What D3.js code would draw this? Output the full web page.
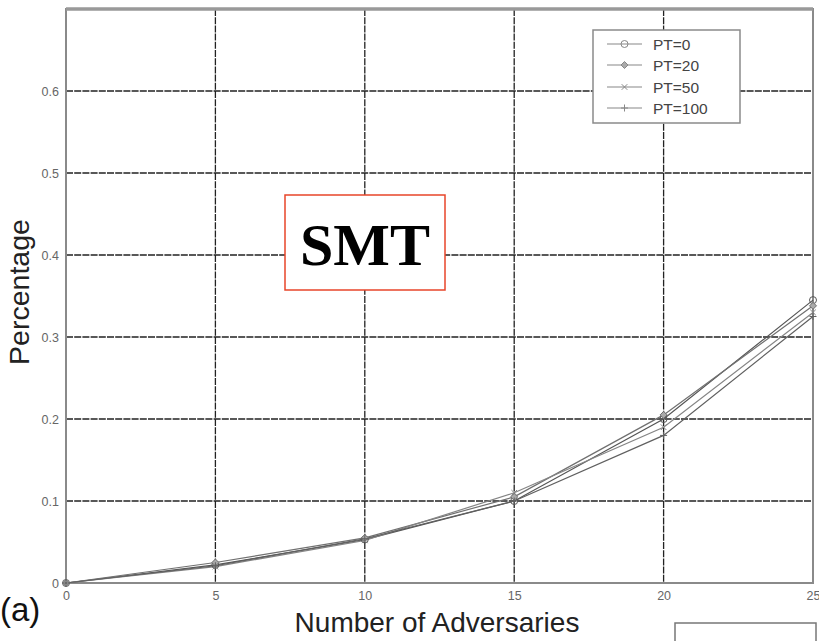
<!DOCTYPE html>
<html>
<head>
<meta charset="utf-8">
<script src="https://cdn.jsdelivr.net/npm/d3@7"></script>
<style>
  html, body { margin: 0; padding: 0; background: #fff; }
  svg { display: block; }
</style>
</head>
<body>
<svg id="chart" width="819" height="641"></svg>
<script>
// Number of adversaries (x) and detection percentage per PT setting
const adversaries = [0, 5, 10, 15, 20, 25];
const seriesNames = ["PT=0", "PT=20", "PT=50", "PT=100"];
const pt0   = [0, 0.022, 0.053, 0.100, 0.200, 0.345];
const pt20  = [0, 0.025, 0.055, 0.105, 0.205, 0.338];
const pt50  = [0, 0.020, 0.052, 0.110, 0.190, 0.330];
const pt100 = [0, 0.021, 0.054, 0.100, 0.180, 0.325];
const xTicks = [0, 5, 10, 15, 20, 25];
const yTicks = [0, 0.1, 0.2, 0.3, 0.4, 0.5, 0.6];
const markerKinds = ["circle", "diamond", "x", "plus"];

const svg = d3.select("#chart");
const L = 66, R = 813, T = 9, B = 583;
const SANS = "Liberation Sans, Arial, Helvetica, sans-serif";

const x = d3.scaleLinear().domain([0, 25]).range([L, R]);
const y = d3.scaleLinear().domain([0, 0.7]).range([B, T]);

// grid lines
const grid = svg.append("g");
grid.selectAll("line.v").data(xTicks.slice(1, -1)).join("line")
  .attr("x1", d => x(d)).attr("x2", d => x(d))
  .attr("y1", T).attr("y2", B)
  .attr("stroke", "#222").attr("stroke-width", 1.3)
  .attr("stroke-dasharray", "7,1.2");
grid.selectAll("line.h").data(yTicks.slice(1)).join("line")
  .attr("x1", L).attr("x2", R)
  .attr("y1", d => y(d)).attr("y2", d => y(d))
  .attr("stroke", "#222").attr("stroke-width", 1.3)
  .attr("stroke-dasharray", "7,1.2");

// frame
svg.append("rect").attr("x", L).attr("y", T).attr("width", R - L).attr("height", B - T)
  .attr("fill", "none").attr("stroke", "#8a8a8a").attr("stroke-width", 2);
svg.append("line").attr("x1", L).attr("x2", R).attr("y1", T).attr("y2", T)
  .attr("stroke", "#999").attr("stroke-width", 3.5);

// axes
const xAxis = d3.axisBottom(x).tickValues(xTicks).tickSize(0).tickPadding(8)
  .tickFormat(d3.format("d"));
const yAxis = d3.axisLeft(y).tickValues(yTicks).tickSize(0).tickPadding(7)
  .tickFormat(d => d === 0 ? "0" : d3.format(".1f")(d));
const gx = svg.append("g").attr("transform", `translate(0,${B})`).call(xAxis);
const gy = svg.append("g").attr("transform", `translate(${L},0)`).call(yAxis);
[gx, gy].forEach(g => {
  g.select(".domain").remove();
  g.selectAll("text").attr("font-family", SANS)
    .attr("font-size", 12.5).attr("fill", "#666");
});

// series lines
const data = [pt0, pt20, pt50, pt100].map((vals, i) => ({
  name: seriesNames[i], kind: markerKinds[i],
  pts: vals.map((v, j) => ({ x: adversaries[j], y: v }))
}));
const lineColors = ["#555", "#707070", "#858585", "#606060"];
const line = d3.line().x(d => x(d.x)).y(d => y(d.y));
svg.append("g").selectAll("path").data(data).join("path")
  .attr("d", d => line(d.pts))
  .attr("fill", "none")
  .attr("stroke", (d, i) => lineColors[i])
  .attr("stroke-width", 1.2);

function drawMarker(g, kind, cx, cy, color) {
  const s = 3.5;
  if (kind === "circle") {
    g.append("circle").attr("cx", cx).attr("cy", cy).attr("r", s)
      .attr("fill", "none").attr("stroke", color).attr("stroke-width", 1);
  } else if (kind === "diamond") {
    g.append("path").attr("d", `M${cx},${cy - s}L${cx + s},${cy}L${cx},${cy + s}L${cx - s},${cy}Z`)
      .attr("fill", "#aaa").attr("stroke", color).attr("stroke-width", 1);
  } else if (kind === "x") {
    const k = s * 0.8;
    g.append("path").attr("d", `M${cx - k},${cy - k}L${cx + k},${cy + k}M${cx - k},${cy + k}L${cx + k},${cy - k}`)
      .attr("stroke", color).attr("stroke-width", 1);
  } else {
    g.append("path").attr("d", `M${cx - s},${cy}L${cx + s},${cy}M${cx},${cy - s}L${cx},${cy + s}`)
      .attr("stroke", color).attr("stroke-width", 1);
  }
}

const mk = svg.append("g");
data.forEach((s, i) => {
  s.pts.forEach(p => drawMarker(mk, s.kind, x(p.x), y(p.y), lineColors[i]));
});

// legend
const lg = svg.append("g");
lg.append("rect").attr("x", 593).attr("y", 30).attr("width", 147).attr("height", 93)
  .attr("fill", "#fff").attr("stroke", "#8a8a8a").attr("stroke-width", 1.5);
const legendY = [44, 65, 87, 108];
data.forEach((s, i) => {
  const ly = legendY[i];
  lg.append("line").attr("x1", 607).attr("x2", 642).attr("y1", ly).attr("y2", ly)
    .attr("stroke", "#888").attr("stroke-width", 1.2);
  drawMarker(lg, s.kind, 624.5, ly, "#888");
  lg.append("text").attr("x", 653).attr("y", ly + 5.5).text(s.name)
    .attr("font-family", SANS).attr("font-size", 15.5)
    .attr("fill", "#444");
});

// SMT label box
svg.append("rect").attr("x", 285).attr("y", 195).attr("width", 160).attr("height", 95)
  .attr("fill", "#fff").attr("stroke", "#e8452a").attr("stroke-width", 1.5);
svg.append("text").attr("x", 365).attr("y", 265).attr("text-anchor", "middle")
  .attr("font-family", "Liberation Serif, Times New Roman, serif").attr("font-weight", "bold")
  .attr("font-size", 60).attr("fill", "#000").text("SMT");

// axis titles
svg.append("text").attr("transform", `translate(29,${292}) rotate(-90)`)
  .attr("text-anchor", "middle").attr("font-family", SANS)
  .attr("font-size", 28.5).attr("fill", "#222").text("Percentage");
svg.append("text").attr("x", 437).attr("y", 632).attr("text-anchor", "middle")
  .attr("font-family", SANS)
  .attr("font-size", 28).attr("fill", "#222").text("Number of Adversaries");
svg.append("text").attr("x", 0).attr("y", 621)
  .attr("font-family", SANS)
  .attr("font-size", 33).attr("fill", "#111").text("(a)");

// small box at lower right
svg.append("rect").attr("x", 675).attr("y", 623).attr("width", 141).attr("height", 40)
  .attr("fill", "none").attr("stroke", "#777").attr("stroke-width", 1.5);
</script>
</body>
</html>
